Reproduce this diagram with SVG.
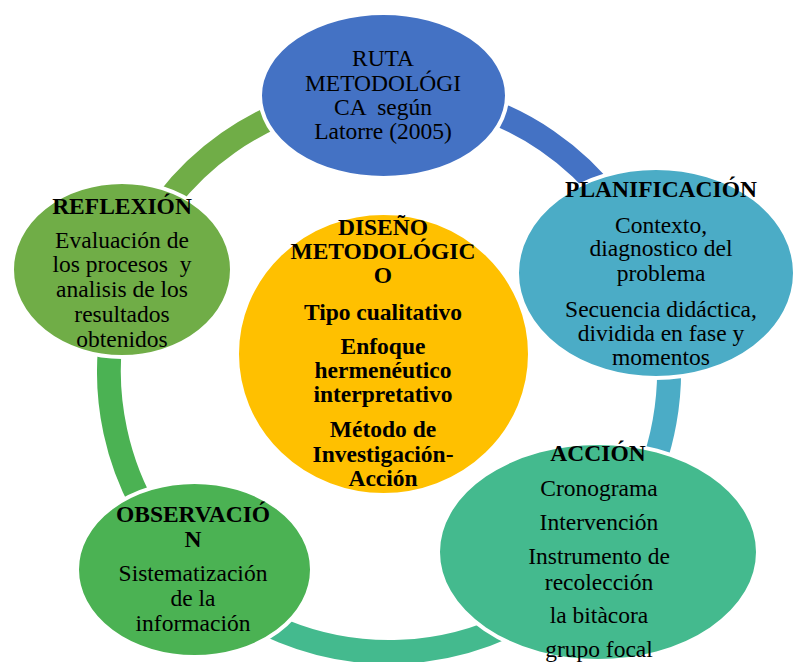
<svg xmlns="http://www.w3.org/2000/svg" width="794" height="662" viewBox="0 0 794 662">
<style>
.t{font-family:"Liberation Serif","Times New Roman",serif;font-size:23.5px;text-anchor:middle;fill:#000}
.b{font-weight:bold}
.n{stroke:#fff;stroke-width:4}
.arc{fill:none;stroke-width:24;stroke-linecap:butt}
</style>
<rect width="794" height="662" fill="#fff"/>
<g id="connectors">
<path class="arc" stroke="#4472C4" d="M384.1,92 A280,280 0 0 1 651.6,274.9"/>
<path class="arc" stroke="#4BACC6" d="M651.6,274.9 A280,280 0 0 1 601.3,554.6"/>
<path class="arc" stroke="#44BA8E" d="M601.3,554.6 A280,280 0 0 1 192.4,571.4"/>
<path class="arc" stroke="#4BB253" d="M192.4,571.4 A280,280 0 0 1 127.6,271.6"/>
<path class="arc" stroke="#70AD47" d="M127.6,271.6 A280,280 0 0 1 384.1,92"/>
</g>
<g id="node-ruta">
<ellipse class="n" cx="383.5" cy="95.5" rx="123.5" ry="82.5" fill="#4472C4"/>
<text class="t" x="383" y="66">RUTA</text>
<text class="t" x="383" y="91">METODOLÓGI</text>
<text class="t" x="383" y="115" xml:space="preserve">CA  según</text>
<text class="t" x="383" y="139">Latorre (2005)</text>
</g>
<g id="node-planificacion">
<ellipse class="n" cx="656" cy="273" rx="139" ry="105" fill="#4BACC6"/>
<text class="t b" x="661" y="197">PLANIFICACIÓN</text>
<text class="t" x="661" y="232.7">Contexto,</text>
<text class="t" x="661" y="256">diagnostico del</text>
<text class="t" x="661" y="280.5">problema</text>
<text class="t" x="661" y="316.7">Secuencia didáctica,</text>
<text class="t" x="661" y="340.5">dividida en fase y</text>
<text class="t" x="661" y="364.5">momentos</text>
</g>
<g id="node-accion">
<ellipse class="n" cx="598" cy="552" rx="160" ry="109" fill="#44BA8E"/>
<text class="t b" x="598" y="460.7">ACCIÓN</text>
<text class="t" x="599" y="496">Cronograma</text>
<text class="t" x="599" y="530">Intervención</text>
<text class="t" x="599" y="564">Instrumento de</text>
<text class="t" x="599" y="589.5">recolección</text>
<text class="t" x="599" y="623">la bitàcora</text>
<text class="t" x="599" y="656.7">grupo focal</text>
</g>
<g id="node-observacion">
<ellipse class="n" cx="194.5" cy="569.5" rx="117.5" ry="87.5" fill="#4BB253"/>
<text class="t b" x="193" y="521.7">OBSERVACIÓ</text>
<text class="t b" x="193" y="546.7">N</text>
<text class="t" x="193" y="580.7">Sistematización</text>
<text class="t" x="193" y="606">de la</text>
<text class="t" x="193" y="631">información</text>
</g>
<g id="node-reflexion">
<ellipse class="n" cx="122" cy="269.5" rx="110" ry="87.5" fill="#70AD47"/>
<text class="t b" x="122" y="214.3">REFLEXIÓN</text>
<text class="t" x="122" y="248.3">Evaluación de</text>
<text class="t" x="122" y="271.7" xml:space="preserve">los procesos  y</text>
<text class="t" x="122" y="297.3">analisis de los</text>
<text class="t" x="122" y="321.7">resultados</text>
<text class="t" x="122" y="346.7">obtenidos</text>
</g>
<g id="node-diseno">
<ellipse class="n" cx="383.5" cy="354" rx="146.5" ry="141" fill="#FFC000"/>
<text class="t b" x="383" y="235">DISEÑO</text>
<text class="t b" x="383" y="259">METODOLÓGIC</text>
<text class="t b" x="383" y="283">O</text>
<text class="t b" x="383" y="320">Tipo cualitativo</text>
<text class="t b" x="383" y="354">Enfoque</text>
<text class="t b" x="383" y="378">hermenéutico</text>
<text class="t b" x="383" y="402">interpretativo</text>
<text class="t b" x="383" y="437">Método de</text>
<text class="t b" x="383" y="461.7">Investigación-</text>
<text class="t b" x="383" y="486">Acción</text>
</g>
</svg>
